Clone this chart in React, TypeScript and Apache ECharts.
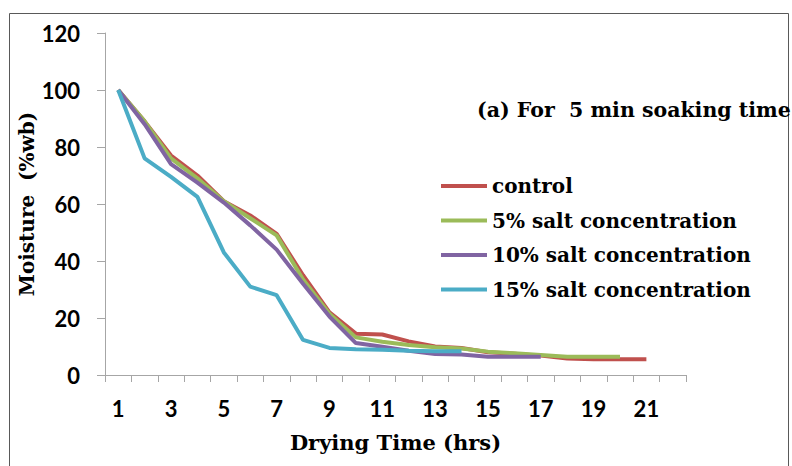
import React, { useEffect, useRef } from "react";
import * as echarts from "echarts";

const hours = ["1","2","3","4","5","6","7","8","9","10","11","12","13","14","15","16","17","18","19","20","21","22"];
const seriesNames = ["control", "5% salt concentration", "10% salt concentration", "15% salt concentration"];
const control = [100, 89, 77, 70, 61, 56, 49.5, 35, 22, 14.5, 14.2, 11.8, 10, 9.5, 8, 7.5, 6.8, 5.8, 5.5, 5.5, 5.5];
const salt5 = [100, 89, 76, 69, 61, 55, 49, 33.5, 21.5, 13.2, 11.7, 10.5, 9.7, 9.3, 8.2, 7.6, 7, 6.4, 6.4, 6.4];
const salt10 = [100, 88, 74, 67.5, 60.5, 52.5, 44, 32, 20.5, 11.2, 9.9, 8.5, 7.4, 7.2, 6.4, 6.4, 6.4];
const salt15 = [100, 76, 69.5, 62.5, 43, 31, 28, 12.3, 9.5, 9, 8.9, 8.5, 8.3, 8.3];
const colors = ["#c0504d", "#9bbb59", "#8064a2", "#4bacc6"];

export default function App() {
  const ref = useRef<HTMLDivElement>(null);
  useEffect(() => {
    if (!ref.current) return;
    const chart = echarts.init(ref.current, null, { renderer: "svg" });
    const allData = [control, salt5, salt10, salt15];
    const serif = "'DejaVu Serif', 'Liberation Serif', serif";
    const sans = "Lato, 'Liberation Sans', sans-serif";
    chart.setOption({
      animation: false,
      backgroundColor: "#ffffff",
      title: {
        text: "(a) For  5 min soaking time",
        left: 477,
        top: 99,
        padding: 0,
        textStyle: { fontFamily: serif, fontWeight: "bold", fontSize: 20.5, color: "#000" },
      },
      legend: {
        orient: "vertical",
        left: 441,
        top: 174,
        padding: 0,
        itemGap: 10.5,
        itemWidth: 46,
        itemHeight: 4,
        icon: "rect",
        data: seriesNames,
        textStyle: { fontFamily: serif, fontWeight: "bold", fontSize: 20, color: "#000", lineHeight: 24, padding: [0, 0, 0, 0] },
      },
      graphic: [
        {
          type: "rect",
          shape: { x: 9.5, y: 13.5, width: 779, height: 470 },
          style: { fill: "none", stroke: "#595959", lineWidth: 1 },
          silent: true,
        },
      ],
      grid: { left: 105, right: 106, top: 33, bottom: 91, containLabel: false },
      xAxis: {
        type: "category",
        data: hours,
        boundaryGap: true,
        name: "Drying Time (hrs)",
        nameLocation: "middle",
        nameGap: 57,
        nameMoveOverlap: false,
        nameTextStyle: { fontFamily: serif, fontWeight: "bold", fontSize: 21, color: "#000" },
        axisLine: { lineStyle: { color: "#a6a6a6", width: 1 } },
        axisTick: { show: true, length: 7, lineStyle: { color: "#a6a6a6" }, alignWithLabel: false, interval: 0 },
        axisLabel: { interval: 1, margin: 22, fontFamily: sans, fontWeight: "bold", fontSize: 22, color: "#000" },
        splitLine: { show: false },
      },
      yAxis: {
        type: "value",
        min: 0,
        max: 120,
        interval: 20,
        name: "Moisture  (%wb)",
        nameLocation: "middle",
        nameGap: 68,
        nameMoveOverlap: false,
        nameTextStyle: { fontFamily: serif, fontWeight: "bold", fontSize: 20, color: "#000" },
        axisLine: { show: true, lineStyle: { color: "#a6a6a6", width: 1 } },
        axisTick: { show: true, length: 8, inside: false, lineStyle: { color: "#a6a6a6" } },
        axisLabel: { margin: 25, fontFamily: sans, fontWeight: "bold", fontSize: 22, color: "#000" },
        splitLine: { show: false },
      },
      series: seriesNames.map((n, i) => ({
        name: n,
        type: "line",
        data: allData[i],
        showSymbol: false,
        symbol: "none",
        color: colors[i],
        lineStyle: { color: colors[i], width: 4 },
        itemStyle: { color: colors[i] },
        z: 2 + i,
      })),
    });
    return () => chart.dispose();
  }, []);
  return <div ref={ref} style={{ width: 792, height: 466, position: "absolute", left: 0, top: 0 }} />;
}
